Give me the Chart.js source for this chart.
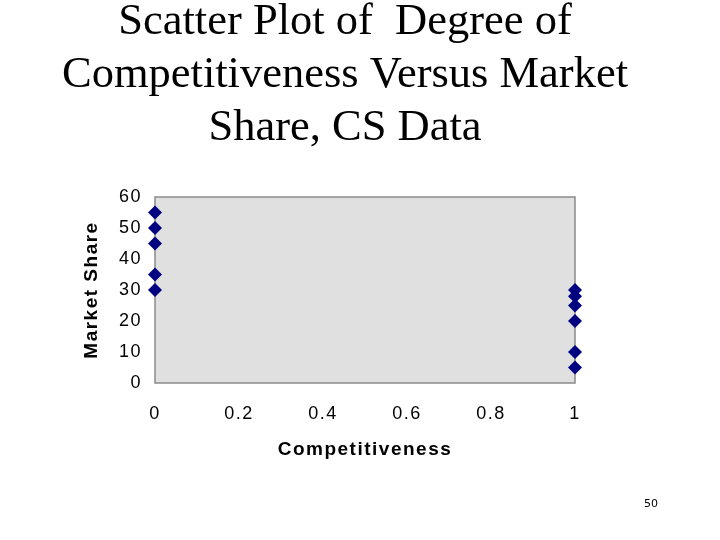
<!DOCTYPE html>
<html>
<head>
<meta charset="utf-8">
<script src="https://cdn.jsdelivr.net/npm/chart.js@4.4.0/dist/chart.umd.min.js"></script>
<style>
  html, body { margin: 0; padding: 0; background: #fff; }
  #wrap { position: relative; width: 720px; height: 540px; }
  #pageNo { position: absolute; left: 640px; top: 497px; width: 22px; text-align: center;
    font: 11px "DejaVu Sans", sans-serif; color: #000; }
</style>
</head>
<body>
<div id="wrap">
  <canvas id="scatterChart" width="720" height="540"></canvas>
  <div id="pageNo">50</div>
</div>
<script>
// title lines
const titleLines = [
  "Scatter Plot of  Degree of",
  "Competitiveness Versus Market",
  "Share, CS Data",
];

// competitiveness (0 / 1) and market share for each firm
const competitiveness = [0, 0, 0, 0, 0, 1, 1, 1, 1, 1, 1];
const marketShare = [55, 50, 45, 35, 30, 30, 28, 25, 20, 10, 5];

const xTicks = [0, 0.2, 0.4, 0.6, 0.8, 1];
const yTicks = [0, 10, 20, 30, 40, 50, 60];

const points = competitiveness.map((c, i) => ({ x: c, y: marketShare[i] }));

//wide letter spacing like the old slide text
const textSpacing = {
  id: "textSpacing",
  beforeDraw(chart) {
    chart.ctx.letterSpacing = "1.5px";
  },
};

//gray plot area + frame
const plotBackground = {
  id: "plotBackground",
  beforeDatasetsDraw(chart) {
    const { ctx, chartArea: a } = chart;
    ctx.save();
    ctx.fillStyle = "#e0e0e0";
    ctx.fillRect(a.left, a.top, a.right - a.left, a.bottom - a.top);
    ctx.strokeStyle = "#8a8a8a";
    ctx.lineWidth = 1.5;
    ctx.strokeRect(a.left, a.top, a.right - a.left, a.bottom - a.top);
    ctx.restore();
  },
};

//slide title, centred like the original slide
const slideTitle = {
  id: "slideTitle",
  afterDraw(chart) {
    const ctx = chart.ctx;
    ctx.save();
    ctx.letterSpacing = "0px";
    ctx.font = '44.5px "Liberation Serif", "Times New Roman", serif';
    ctx.fillStyle = "#000";
    ctx.textAlign = "center";
    ctx.textBaseline = "alphabetic";
    const baselines = [34, 87, 140];
    titleLines.forEach((line, i) => ctx.fillText(line, 345, baselines[i]));
    ctx.restore();
  },
};

const tickFont = { family: '"Liberation Sans", Arial, sans-serif', size: 18 };
const axisFont = { family: '"Liberation Sans", Arial, sans-serif', size: 19, weight: "bold" };

const scatterConfig = {
  type: "scatter",
  data: {
    datasets: [
      {
        label: "Market Share",
        data: points,
        backgroundColor: "#000080",
        borderColor: "#000080",
        borderWidth: 0,
        pointStyle: "rectRot",
        radius: 7,
        clip: false,
      },
    ],
  },
  options: {
    responsive: false,
    animation: false,
    devicePixelRatio: 1,
    layout: { padding: { top: 197, right: 145, left: 0, bottom: 0 } },
    plugins: {
      legend: { display: false },
      title: { display: false },
      tooltip: { enabled: false },
    },
    scales: {
      x: {
        type: "linear",
        min: 0,
        max: 1,
        afterBuildTicks: (s) => { s.ticks = xTicks.map((v) => ({ value: v })); },
        afterFit: (s) => { s.height = 540 - 383; },
        grid: { display: false, drawTicks: false },
        border: { display: false },
        ticks: { color: "#000", font: tickFont, padding: 20, callback: (v) => String(v) },
        title: {
          display: true,
          text: "Competitiveness",
          color: "#000",
          font: axisFont,
          padding: { top: 0, bottom: 79 },
        },
      },
      y: {
        type: "linear",
        min: 0,
        max: 60,
        afterBuildTicks: (s) => { s.ticks = yTicks.map((v) => ({ value: v })); },
        afterFit: (s) => { s.width = 155; },
        grid: { display: false, drawTicks: false },
        border: { display: false },
        ticks: { color: "#000", font: tickFont, padding: 13, callback: (v) => String(v) },
        title: {
          display: true,
          text: "Market Share",
          color: "#000",
          font: axisFont,
          padding: { top: 80, bottom: 0 },
        },
      },
    },
  },
  plugins: [textSpacing, plotBackground, slideTitle],
};

const scatterChart = new Chart(document.getElementById("scatterChart"), scatterConfig);
console.log(scatterChart);
</script>
</body>
</html>
